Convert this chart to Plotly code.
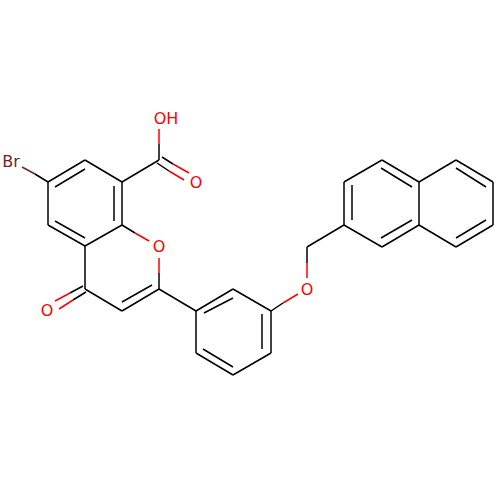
import plotly.graph_objects as go

# bond segments in picture pixels: x0, y0, x1, y1
black_bonds = [
	(48, 182, 85, 160), (85, 160, 122, 182), (122, 182, 122, 225), (122, 225, 85, 246),
	(85, 246, 48, 225), (48, 225, 48, 182), (55, 187, 85, 169), (114, 186, 114, 221),
	(55, 221, 85, 238), (48, 182, 35, 174), (122, 182, 159, 160), (159, 160, 159, 144),
	(162, 157, 173, 164), (157, 163, 169, 171), (122, 225, 135, 233), (85, 246, 85, 289),
	(85, 289, 122, 311), (122, 311, 159, 289), (122, 302, 152, 285), (159, 289, 159, 273),
	(83, 286, 70, 293), (86, 292, 73, 300), (159, 289, 196, 311), (196, 311, 233, 289),
	(233, 289, 271, 311), (271, 311, 271, 353), (271, 353, 233, 375), (233, 375, 196, 353),
	(196, 353, 196, 311), (204, 313, 233, 298), (262, 314, 262, 349), (203, 349, 233, 367),
	(271, 311, 283, 303), (307, 263, 307, 247), (307, 247, 344, 225), (344, 225, 344, 182),
	(344, 182, 382, 160), (382, 160, 419, 182), (419, 182, 419, 225), (419, 225, 382, 247),
	(382, 247, 344, 225), (352, 185, 352, 220), (381, 168, 412, 187), (381, 238, 412, 220),
	(419, 182, 456, 160), (456, 160, 493, 182), (493, 182, 493, 225), (493, 225, 456, 247),
	(456, 247, 419, 225), (456, 168, 486, 187), (456, 238, 486, 220),
]
red_bonds = [
	(159, 144, 159, 129), (173, 164, 189, 173), (169, 171, 184, 180), (135, 233, 149, 241),
	(159, 273, 159, 258), (70, 293, 55, 301), (73, 300, 59, 309), (283, 303, 298, 294),
	(307, 278, 307, 263),
]
brown_bonds = [(35, 174, 22, 167)]

label_text = ["OH", "O", "O", "O", "O", "Br"]
label_x = [166, 196, 159, 47, 307, 11]
label_y = [120, 184, 248, 312, 291, 163]
label_color = ["#ff0000", "#ff0000", "#ff0000", "#ff0000", "#ff0000", "#662a2a"]

def bond_trace(bonds, color):
	xs, ys = [], []
	for x0, y0, x1, y1 in bonds:
		xs += [x0, x1, None]
		ys += [y0, y1, None]
	return go.Scatter(x=xs, y=ys, mode="lines", line=dict(color=color, width=1.5), hoverinfo="skip")

fig = go.Figure()
fig.add_trace(bond_trace(black_bonds, "#000000"))
fig.add_trace(bond_trace(red_bonds, "#ff0000"))
fig.add_trace(bond_trace(brown_bonds, "#662a2a"))
fig.add_trace(go.Scatter(
	x=label_x, y=label_y, mode="text", text=label_text,
	textfont=dict(family="DejaVu Sans", size=16, color=label_color),
	textposition="middle center", hoverinfo="skip"
))
fig.update_layout(
	width=500, height=500, margin=dict(l=0, r=0, t=0, b=0),
	paper_bgcolor="white", plot_bgcolor="white", showlegend=False
)
fig.update_xaxes(range=[0, 500], visible=False)
fig.update_yaxes(range=[500, 0], visible=False)
# page margin would push the drawing 8px off
fig.write_html("out.html", post_script="document.body.style.margin='0';", config=dict(displayModeBar=False))
